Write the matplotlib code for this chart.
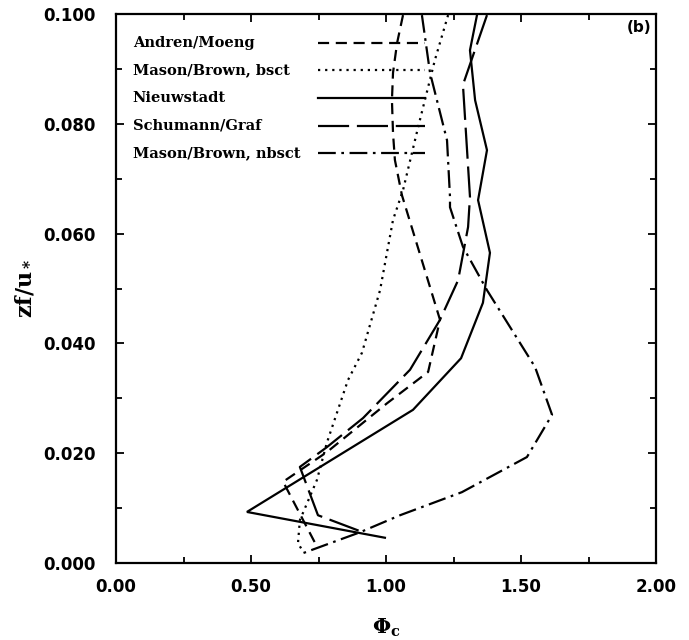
import matplotlib
matplotlib.use("Agg")
import matplotlib.pyplot as plt
from matplotlib.ticker import MultipleLocator, FormatStrFormatter

# ---- data (Phi_c, zf/u*) ----
andren_x = [1.063, 1.041, 1.026, 1.022, 1.026, 1.033, 1.059, 1.200, 1.156, 1.004, 0.781, 0.619, 0.741]
andren_y = [0.0998, 0.0947, 0.0893, 0.0843, 0.0783, 0.0734, 0.0670, 0.0443, 0.0348, 0.0291, 0.0202, 0.0148, 0.0033]

bsct_x = [1.230, 1.181, 1.119, 1.063, 1.026, 0.978, 0.911, 0.859, 0.781, 0.744, 0.681, 0.674, 0.689]
bsct_y = [0.0998, 0.0916, 0.0794, 0.0679, 0.0625, 0.0497, 0.0383, 0.0333, 0.0219, 0.0151, 0.0078, 0.0036, 0.0024]

nieu_x = [1.337, 1.311, 1.330, 1.374, 1.341, 1.385, 1.359, 1.278, 1.100, 0.485, 0.996]
nieu_y = [0.0998, 0.0934, 0.0843, 0.0752, 0.0661, 0.0565, 0.0474, 0.0373, 0.0279, 0.0093, 0.0046]

schu_x = [1.374, 1.285, 1.311, 1.304, 1.267, 1.200, 1.089, 0.915, 0.781, 0.681, 0.748, 0.904]
schu_y = [0.0998, 0.0871, 0.0667, 0.0612, 0.0515, 0.0443, 0.0352, 0.0264, 0.0211, 0.0175, 0.0087, 0.0058]

nbsct_x = [1.133, 1.163, 1.226, 1.237, 1.237, 1.285, 1.374, 1.552, 1.615, 1.522, 1.281, 1.052, 0.904, 0.693]
nbsct_y = [0.0998, 0.0893, 0.0770, 0.0667, 0.0648, 0.0576, 0.0497, 0.0357, 0.0270, 0.0193, 0.0129, 0.0087, 0.0056, 0.0018]

labels = ["Andren/Moeng", "Mason/Brown, bsct", "Nieuwstadt", "Schumann/Graf", "Mason/Brown, nbsct"]
xticks = [0.0, 0.5, 1.0, 1.5, 2.0]
yticks = [0.0, 0.02, 0.04, 0.06, 0.08, 0.10]

series = [(andren_x, andren_y), (bsct_x, bsct_y), (nieu_x, nieu_y), (schu_x, schu_y), (nbsct_x, nbsct_y)]
dashes = [(5, 3), (1, 2.2), None, (14, 3.5), (8, 2.5, 1.2, 2.5)]

plt.rcParams['mathtext.fontset'] = 'dejavuserif'

fig = plt.figure(figsize=(6.89, 6.40), dpi=100)
ax = fig.add_axes([116/689, 77/640, 540/689, 549/640])

lw = 1.6
for (xs, ys), d in zip(series, dashes):
    if d is None:
        ax.plot(xs, ys, color='black', lw=lw, solid_joinstyle='miter')
    else:
        ax.plot(xs, ys, color='black', lw=lw, dashes=d)

ax.set_xlim(0, 2.0)
ax.set_ylim(0, 0.1)
ax.set_xticks(xticks)
ax.set_yticks(yticks)
ax.xaxis.set_minor_locator(MultipleLocator(0.25))
ax.yaxis.set_minor_locator(MultipleLocator(0.01))
ax.xaxis.set_major_formatter(FormatStrFormatter('%.2f'))
ax.yaxis.set_major_formatter(FormatStrFormatter('%.3f'))
ax.tick_params(which='both', direction='in', top=True, right=True, width=1.3, colors='black')
ax.tick_params(which='major', length=6)
ax.tick_params(which='minor', length=4)
ax.tick_params(axis='x', which='major', pad=10.5)
ax.tick_params(axis='y', which='major', pad=14.5)
for lab in ax.get_xticklabels() + ax.get_yticklabels():
    lab.set_fontfamily('DejaVu Sans')
    lab.set_fontweight('bold')
    lab.set_fontsize(12)
for sp in ax.spines.values():
    sp.set_linewidth(1.6)

ax.set_xlabel(r'$\mathbf{\Phi_c}$', fontsize=15, labelpad=15.5)
ax.set_ylabel(r'$\mathbf{zf/u_*}$', fontsize=16, labelpad=5.5)

# legend: text first, line sample after
row_y = [0.947, 0.898, 0.847, 0.796, 0.747]
for lab, d, yy in zip(labels, dashes, row_y):
    ax.text(0.031, yy, lab, transform=ax.transAxes, ha='left', va='center',
            fontfamily='DejaVu Serif', fontweight='bold', fontsize=10.5)
    if d is None:
        ax.plot([0.374, 0.572], [yy, yy], transform=ax.transAxes, color='black', lw=lw)
    else:
        ax.plot([0.374, 0.572], [yy, yy], transform=ax.transAxes, color='black', lw=lw, dashes=d)

ax.text(0.992, 0.975, '(b)', transform=ax.transAxes, ha='right', va='center',
        fontfamily='DejaVu Sans', fontweight='bold', fontsize=11)

fig.savefig('out.png', dpi=100)
